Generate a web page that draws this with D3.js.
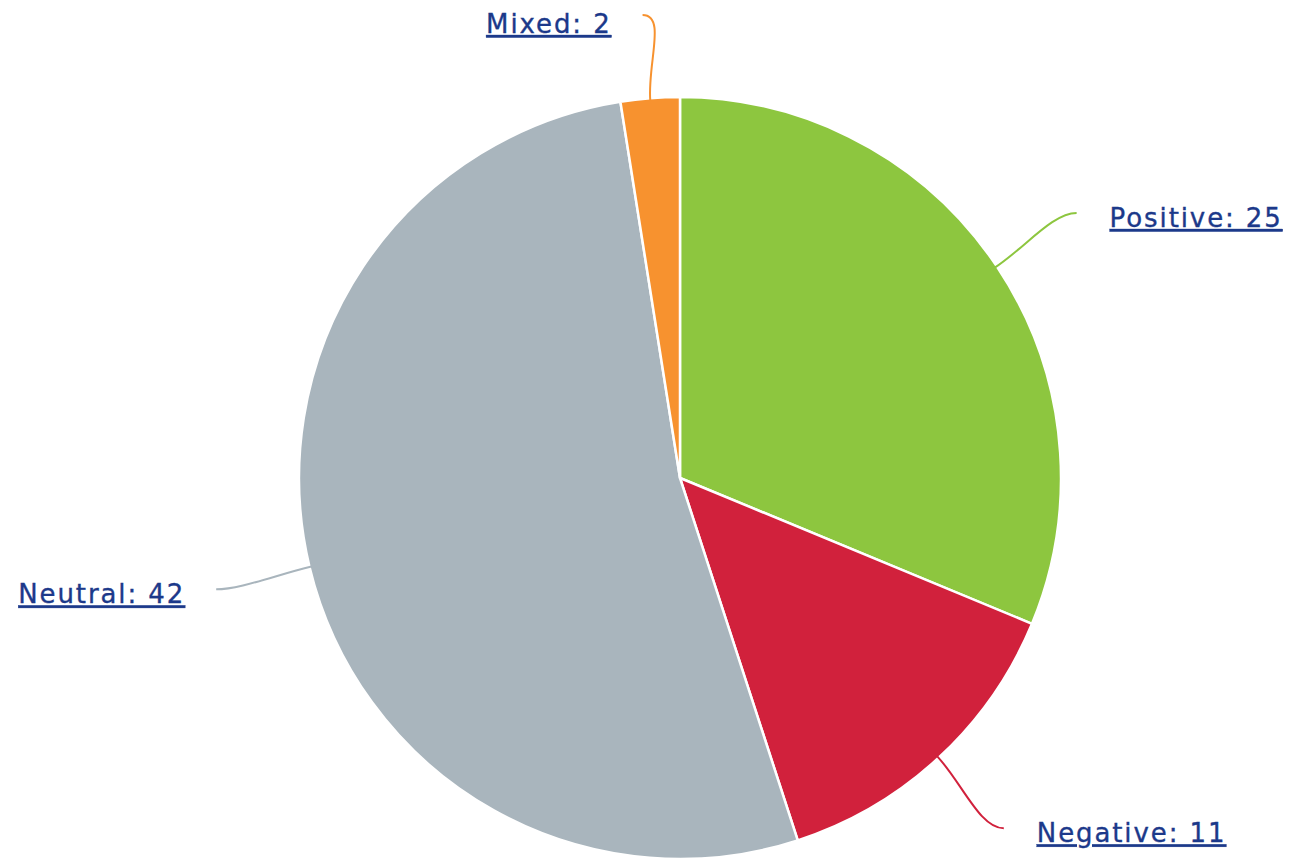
<!DOCTYPE html>
<html>
<head>
<meta charset="utf-8">
<script src="https://cdn.jsdelivr.net/npm/d3@7"></script>
<style>
  html, body { margin: 0; padding: 0; background: #ffffff; }
  svg { display: block; }
  .lbl { font-family: "DejaVu Sans", Verdana, sans-serif; font-size: 26px; fill: #1c398a; stroke: #1c398a; stroke-width: 0.35px; letter-spacing: 1.9px; text-decoration: underline; }
</style>
</head>
<body>
<script>
const categories = ["Positive", "Negative", "Neutral", "Mixed"];
const values = [25, 11, 42, 2];
const colors = ["#8dc63f", "#d1213c", "#a9b5bd", "#f7922f"];

const W = 1289, H = 860;
const cx = 680, cy = 478, R = 381;
const labelGap = 96;
const minEndY = 15, minTextY = 33;

const svg = d3.select("body").append("svg").attr("width", W).attr("height", H);
const g = svg.append("g").attr("transform", `translate(${cx},${cy})`);

const data = categories.map((c, i) => ({ name: c, value: values[i], color: colors[i] }));
const pie = d3.pie().value(d => d.value).sort(null).startAngle(0).endAngle(2 * Math.PI);
const arcs = pie(data);
const arc = d3.arc().innerRadius(0).outerRadius(R);

g.selectAll("path.slice").data(arcs).enter().append("path")
  .attr("class", "slice")
  .attr("d", arc)
  .attr("fill", d => d.data.color)
  .attr("stroke", "#ffffff")
  .attr("stroke-width", 2.5)
  .attr("stroke-linejoin", "round");

function polar(a, r) { return [r * Math.sin(a), -r * Math.cos(a)]; }

arcs.forEach(d => {
  const a = (d.startAngle + d.endAngle) / 2;
  const right = Math.sin(a) >= 0 && a < Math.PI * 1.9;
  const side = right ? 1 : -1;
  const p0 = polar(a, R - 2);
  const c1 = polar(a, R + 35);
  const e = polar(a, R + labelGap);
  e[1] = Math.max(e[1], minEndY - cy);
  const c2 = [e[0] - side * 24, e[1]];
  g.append("path")
    .attr("d", `M${p0[0]},${p0[1]} C${c1[0]},${c1[1]} ${c2[0]},${c2[1]} ${e[0]},${e[1]}`)
    .attr("fill", "none")
    .attr("stroke", d.data.color)
    .attr("stroke-width", 2);
  g.append("text")
    .attr("class", "lbl")
    .attr("x", e[0] + side * (right ? 33 : 31))
    .attr("y", Math.max(e[1] + 14, minTextY - cy))
    .attr("text-anchor", right ? "start" : "end")
    .text(`${d.data.name}: ${d.data.value}`);
});
</script>
</body>
</html>
